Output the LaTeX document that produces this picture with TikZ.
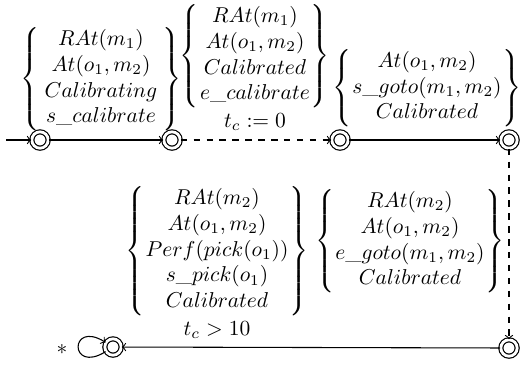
\documentclass[tikz,border=0pt]{standalone}
\usetikzlibrary{arrows}
\setlength{\arraycolsep}{0.5pt}
\begin{document}
\begin{tikzpicture}[x=0.465pt,y=-0.465pt,
  st/.style={circle, draw, double, double distance=1.3pt, line width=0.55pt, inner sep=0pt, minimum size=7.6pt},
  tr/.style={->, >=to, line width=0.5pt},
  lbl/.style={inner sep=0pt}]
\useasboundingbox (0,0) rectangle (521,364);
\node[st] (s1) at (40,140) {};
\node[st] (s2) at (172,140) {};
\node[st] (s3) at (340,140) {};
\node[st] (s4) at (509,140) {};
\node[st] (s5) at (509,348) {};
\node[st] (s6) at (113,347) {};
\coordinate (init) at (6,140);
\draw[tr] (init) -- (s1);
\draw[tr] (s1) -- (s2);
\draw[tr, dashed] (s2) -- (s3);
\draw[tr] (s3) -- (s4);
\draw[tr, dashed] (s4) -- (s5);
\draw[tr] (s5) -- (s6);
\draw[tr] (s6.212) .. controls +(212:20pt) and +(148:20pt) .. (s6.148);
\node[lbl] (star) at (62,349) {$*$};
\node[lbl] (l1) at (101,79) {$\left\{\kern2pt\begin{array}{c} RAt(m_1)\\ At(o_1,m_2)\\ Calibrating\\ s\_calibrate \end{array}\kern2pt\right\}$};
\node[lbl] (l2) at (255,56) {$\left\{\begin{array}{c} RAt(m_1)\\ At(o_1,m_2)\\ Calibrated\\ e\_calibrate \end{array}\right\}$};
\node[lbl] (g2) at (255,122) {$t_c := 0$};
\node[lbl] (l3) at (427,88) {$\left\{\begin{array}{c} At(o_1,m_2)\\ s\_goto(m_1,m_2)\\ Calibrated \end{array}\right\}$};
\node[lbl] (l5) at (217,251) {$\left\{\begin{array}{c} RAt(m_2)\\ At(o_1,m_2)\\ Perf(pick(o_1))\\ s\_pick(o_1)\\ Calibrated \end{array}\right\}$};
\node[lbl] (g5) at (217,330) {$t_c > 10$};
\node[lbl] (l6) at (410,241) {$\left\{\begin{array}{c} RAt(m_2)\\ At(o_1,m_2)\\ e\_goto(m_1,m_2)\\ Calibrated \end{array}\right\}$};
\end{tikzpicture}
\end{document}
